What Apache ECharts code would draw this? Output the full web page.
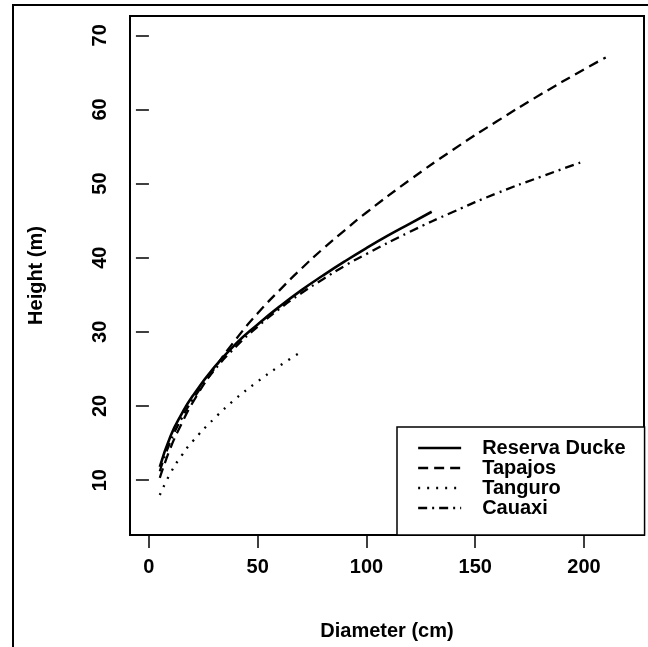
<!DOCTYPE html>
<html>
<head>
<meta charset="utf-8">
<script src="https://cdn.jsdelivr.net/npm/echarts@6/dist/echarts.min.js"></script>
<style>html,body{margin:0;padding:0;background:#fff;}#c{width:648px;height:647px;}</style>
</head>
<body>
<div id="c"></div>
<script>
const xTicks = [0, 50, 100, 150, 200];
const yTicks = [10, 20, 30, 40, 50, 60, 70];
const seriesNames = ['Reserva Ducke', 'Tapajos', 'Tanguro', 'Cauaxi'];

const duckeD = [5, 10, 15, 20, 30, 40, 50, 60, 70, 80, 90, 100, 110, 120, 130];
const duckeH = [11.8, 16.0, 18.9, 21.3, 25.2, 28.4, 31.0, 33.4, 35.6, 37.6, 39.5, 41.3, 43.0, 44.6, 46.2];

const tapajosD = [5, 10, 15, 20, 30, 40, 50, 60, 70, 80, 90, 100, 120, 140, 160, 180, 200, 210];
const tapajosH = [10.3, 14.4, 17.6, 20.4, 25.0, 29.0, 32.5, 35.6, 38.5, 41.2, 43.7, 46.1, 50.5, 54.6, 58.4, 62.0, 65.4, 67.0];

const tanguroD = [5, 10, 15, 20, 30, 40, 50, 60, 70];
const tanguroH = [8.0, 11.0, 13.3, 15.2, 18.3, 21.0, 23.3, 25.4, 27.3];

const cauaxiD = [5, 10, 15, 20, 30, 40, 50, 60, 70, 80, 90, 100, 120, 140, 160, 180, 200];
const cauaxiH = [11.2, 15.3, 18.3, 20.8, 24.8, 28.0, 30.7, 33.1, 35.2, 37.1, 38.9, 40.5, 43.5, 46.2, 48.7, 50.9, 53.0];

const pairs = (xs, ys) => xs.map((x, i) => [x, ys[i]]);
const FONT = '"Liberation Sans", Arial, Helvetica, sans-serif';
const chart = echarts.init(document.getElementById('c'), null, {renderer: 'canvas'});

function mk(name, xs, ys, type, w) {
  return {
    name: name, type: 'line', data: pairs(xs, ys), smooth: true,
    symbol: 'none', showSymbol: false,
    lineStyle: {color: '#000', width: w, type: type, cap: 'butt'},
    itemStyle: {color: '#000'}
  };
}

chart.setOption({
  animation: false,
  backgroundColor: '#fff',
  graphic: [{
    type: 'rect', shape: {x: 13, y: 5, width: 700, height: 700},
    style: {fill: 'none', stroke: '#000', lineWidth: 2}, silent: true
  }],
  grid: {left: 130, top: 16, right: 4, bottom: 112, show: true, borderColor: '#000', borderWidth: 2, backgroundColor: 'transparent'},
  xAxis: {
    type: 'value', min: -8.7, max: 227.6,
    name: 'Diameter (cm)', nameLocation: 'middle', nameGap: 86,
    nameTextStyle: {fontFamily: FONT, fontSize: 20, fontWeight: 'bold', color: '#000'},
    axisLine: {show: false},
    splitLine: {show: false},
    axisTick: {show: true, length: 13, lineStyle: {color: '#000', width: 1.5}, customValues: xTicks},
    axisLabel: {customValues: xTicks, margin: 22, fontFamily: FONT, fontSize: 20, fontWeight: 'bold', color: '#000'}
  },
  yAxis: {
    type: 'value', min: 2.6, max: 72.6,
    name: 'Height (m)', nameLocation: 'middle', nameGap: 84, nameRotate: 90,
    nameTextStyle: {fontFamily: FONT, fontSize: 20, fontWeight: 'bold', color: '#000'},
    axisLine: {show: false},
    splitLine: {show: false},
    axisTick: {show: true, length: 13, lineStyle: {color: '#000', width: 1.5}, customValues: yTicks},
    axisLabel: {customValues: yTicks, rotate: 90, margin: 20, fontFamily: FONT, fontSize: 20, fontWeight: 'bold', color: '#000'}
  },
  legend: {
    orient: 'vertical', left: 397, top: 427,
    data: seriesNames,
    itemWidth: 43, itemHeight: 20, itemGap: 0,
    padding: [11, 19, 17, 20],
    borderColor: '#000', borderWidth: 1.5, backgroundColor: '#fff',
    itemStyle: {opacity: 0},
    lineStyle: {width: 2.3},
    textStyle: {fontFamily: FONT, fontSize: 20, fontWeight: 'bold', color: '#000', padding: [0, 0, 0, 16]},
    selectedMode: false
  },
  series: [
    mk(seriesNames[0], duckeD, duckeH, 'solid', 2.6),
    mk(seriesNames[1], tapajosD, tapajosH, [10, 6], 2.3),
    mk(seriesNames[2], tanguroD, tanguroH, [2, 7], 2.3),
    mk(seriesNames[3], cauaxiD, cauaxiH, [9, 5, 2, 5], 2.3)
  ]
});
</script>
</body>
</html>
